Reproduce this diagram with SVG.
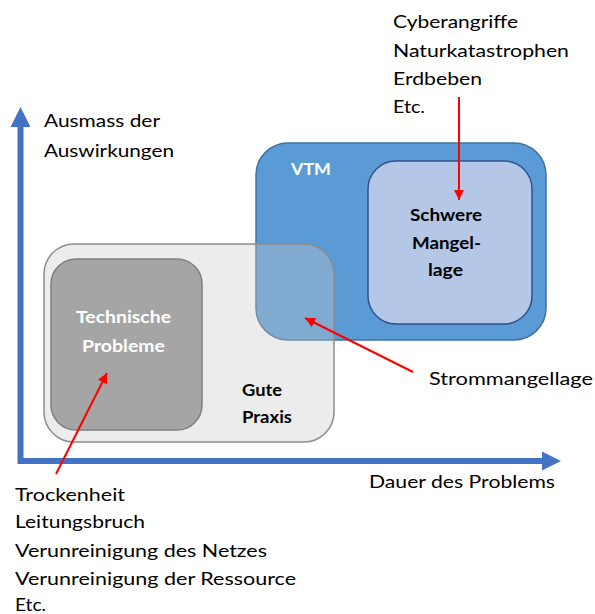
<svg xmlns="http://www.w3.org/2000/svg" width="595" height="614" viewBox="0 0 595 614">
<defs>
<style>
text{font-family:Lato,"Noto Sans","Liberation Sans",sans-serif;font-size:17px;fill:#000}
.b{font-weight:bold;font-size:17.5px}
.w{fill:#fff}
.red{stroke:#ff0000;stroke-width:2;fill:none}
.head{fill:#ff0000}
</style>
<marker id="ah" viewBox="0 0 10 10" refX="10" refY="5" markerWidth="11" markerHeight="10" markerUnits="userSpaceOnUse" orient="auto">
<path d="M0,0 L10,5 L0,10 z" class="head"/>
</marker>
</defs>
<rect width="595" height="614" fill="#fff"/>

<g id="axes">
<path d="M20.5,126 L20.5,461 L543,461" fill="none" stroke="#4472C4" stroke-width="6"/>
<polygon points="20.5,107 30.5,127 10.5,127" fill="#4472C4"/>
<polygon points="561,461 542,451.5 542,470.5" fill="#4472C4"/>
<text x="44" y="127" textLength="116" lengthAdjust="spacingAndGlyphs">Ausmass der</text>
<text x="44" y="157" textLength="130" lengthAdjust="spacingAndGlyphs">Auswirkungen</text>
<text x="369" y="488" textLength="186" lengthAdjust="spacingAndGlyphs">Dauer des Problems</text>
</g>

<g id="vtm">
<rect x="256" y="143" width="290" height="197" rx="32" fill="#5B9BD5" stroke="#41719C" stroke-width="1.5"/>
<text class="b w" x="291" y="175" textLength="40" lengthAdjust="spacingAndGlyphs">VTM</text>
</g>

<g id="schwere-mangellage">
<rect x="368" y="161" width="164" height="163" rx="28" fill="#B4C7E7" stroke="#2F528F" stroke-width="1.5"/>
<text class="b" x="410" y="221" textLength="72" lengthAdjust="spacingAndGlyphs">Schwere</text>
<text class="b" x="412" y="249" textLength="69" lengthAdjust="spacingAndGlyphs">Mangel-</text>
<text class="b" x="428" y="276" textLength="35" lengthAdjust="spacingAndGlyphs">lage</text>
</g>

<g id="gute-praxis">
<rect x="44" y="244" width="290" height="198" rx="30" fill="#C7C7C7" fill-opacity="0.34" stroke="#8C8C8C" stroke-width="1.5"/>
<text class="b" x="242" y="396" textLength="40" lengthAdjust="spacingAndGlyphs">Gute</text>
<text class="b" x="242" y="423" textLength="50" lengthAdjust="spacingAndGlyphs">Praxis</text>
</g>

<g id="technische-probleme">
<rect x="51" y="259" width="151" height="171" rx="25" fill="#A5A5A5" stroke="#7F7F7F" stroke-width="1.5"/>
<text class="b w" x="76" y="323" textLength="95" lengthAdjust="spacingAndGlyphs">Technische</text>
<text class="b w" x="82" y="352" textLength="83" lengthAdjust="spacingAndGlyphs">Probleme</text>
</g>

<g id="labels">
<text x="393" y="28" textLength="125" lengthAdjust="spacingAndGlyphs">Cyberangriffe</text>
<text x="393" y="57" textLength="176" lengthAdjust="spacingAndGlyphs">Naturkatastrophen</text>
<text x="393" y="85" textLength="89" lengthAdjust="spacingAndGlyphs">Erdbeben</text>
<text x="393" y="113" textLength="32" lengthAdjust="spacingAndGlyphs">Etc.</text>
<text x="429" y="385" textLength="164" lengthAdjust="spacingAndGlyphs">Strommangellage</text>
<text x="15" y="501" textLength="110" lengthAdjust="spacingAndGlyphs">Trockenheit</text>
<text x="15" y="528" textLength="130" lengthAdjust="spacingAndGlyphs">Leitungsbruch</text>
<text x="15" y="557" textLength="252" lengthAdjust="spacingAndGlyphs">Verunreinigung des Netzes</text>
<text x="15" y="585" textLength="281" lengthAdjust="spacingAndGlyphs">Verunreinigung der Ressource</text>
<text x="15" y="611" textLength="31" lengthAdjust="spacingAndGlyphs">Etc.</text>
</g>

<g id="connectors">
<line class="red" x1="459" y1="97" x2="459" y2="200" marker-end="url(#ah)"/>
<line class="red" x1="413" y1="372" x2="305" y2="318" marker-end="url(#ah)"/>
<line class="red" x1="56" y1="474" x2="107" y2="373" marker-end="url(#ah)"/>
</g>
</svg>
